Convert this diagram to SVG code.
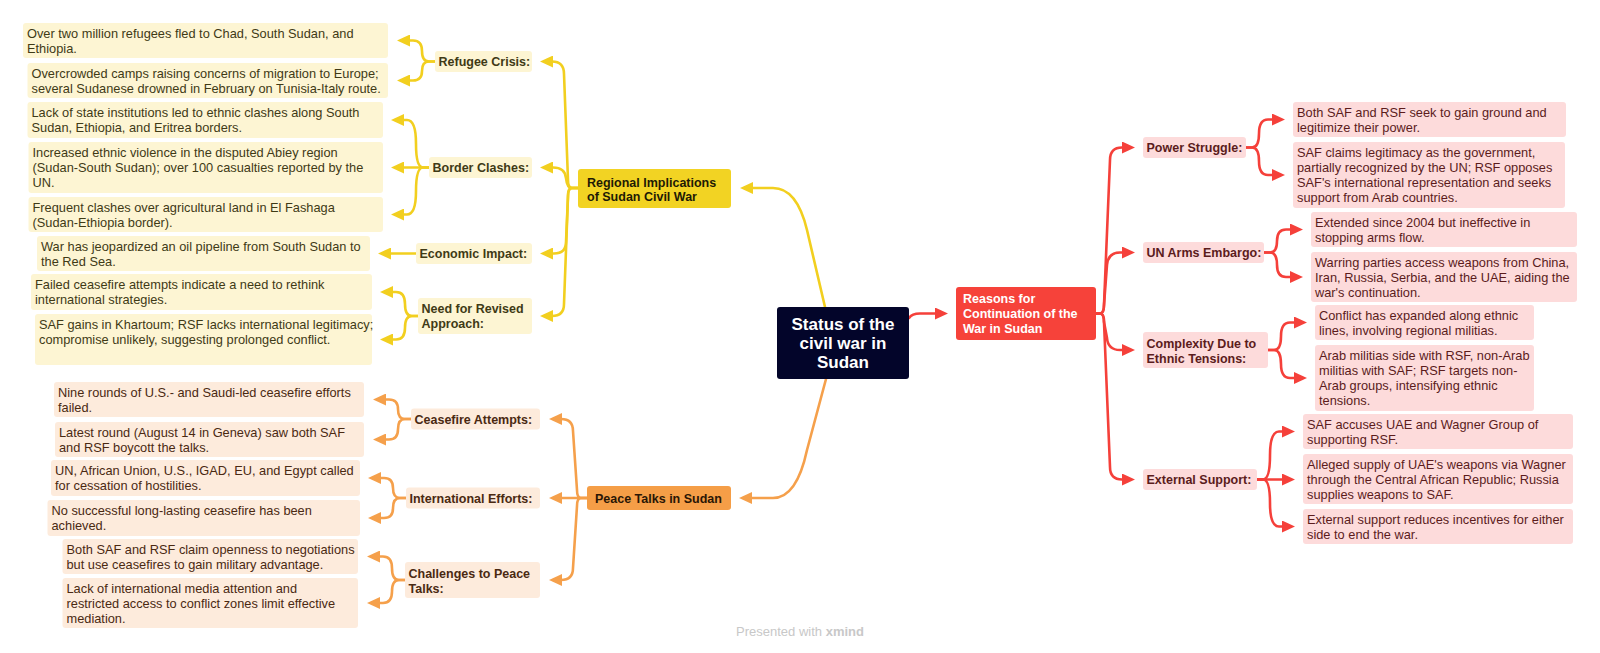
<svg xmlns="http://www.w3.org/2000/svg" width="1600" height="653" viewBox="0 0 1600 653">
<defs>
<marker id="ay" viewBox="0 0 13 12" markerWidth="13" markerHeight="12" refX="7" refY="6" orient="auto" markerUnits="userSpaceOnUse"><path d="M0,0 L13,6 L0,12 Z" fill="#F2CF1F"/></marker>
<marker id="ao" viewBox="0 0 13 12" markerWidth="13" markerHeight="12" refX="7" refY="6" orient="auto" markerUnits="userSpaceOnUse"><path d="M0,0 L13,6 L0,12 Z" fill="#F5A04B"/></marker>
<marker id="ar" viewBox="0 0 13 12" markerWidth="13" markerHeight="12" refX="7" refY="6" orient="auto" markerUnits="userSpaceOnUse"><path d="M0,0 L13,6 L0,12 Z" fill="#F5403A"/></marker>
</defs>
<style>
text{font-family:"Liberation Sans",Arial,sans-serif}
.c{fill:none;stroke-width:2.6;stroke-linecap:round;stroke-linejoin:round}
.cy{stroke:#F2CF1F;marker-end:url(#ay)}
.co{stroke:#F5A04B;marker-end:url(#ao)}
.cr{stroke:#F5403A;marker-end:url(#ar)}
.by{fill:#FDF5D3}
.bo{fill:#FDEBDC}
.br{fill:#FDDBDB}
.leaf{font-size:12.8px}
.mid{font-size:12.5px;font-weight:bold}
.main{font-size:12.5px;font-weight:bold}
.ty{fill:#3F3A16}
.to{fill:#4A2912}
.tr{fill:#5B1C1C}
</style>
<rect width="1600" height="653" fill="#FFFFFF"/>

<g id="connectors" class="c">
<!-- central to main topics -->
<path class="cy" d="M825,307 L807,230 C801,205 791,188 773,188 L746,188"/>
<path class="co" d="M826,379 L807,450 C801,478 791,498 773,498 L745,498"/>
<path class="cr" d="M909,318 Q912,313.5 920,313.5 L942,313.5"/>
<!-- yellow level 1 -->
<path class="cy" d="M578,188 L572,188 Q568,188 568,180 L564,74 Q564,61.5 552,61.5 L546,61.5"/>
<path class="cy" d="M578,188 L572,188 Q567,188 566,178 Q565,167.5 553,167.5 L546,167.5"/>
<path class="cy" d="M578,188 L572,188 Q568,188 568,196 L566,242 Q566,253.5 554,253.5 L546,253.5"/>
<path class="cy" d="M578,188 L572,188 Q568,188 568,196 L564,304 Q564,316 552,316 L546,316"/>
<!-- yellow level 2 -->
<path class="cy" d="M435,61.5 L429,61.5 Q422,61.5 422,51 Q422,40.5 413,40.5 L403,40.5"/>
<path class="cy" d="M435,61.5 L429,61.5 Q422,61.5 422,71 Q422,80.5 413,80.5 L403,80.5"/>
<path class="cy" d="M429,167.5 L423,167.5 Q416,167.5 416,143.75 Q416,120 407,120 L397,120"/>
<path class="cy" d="M429,167.5 L397,167.5"/>
<path class="cy" d="M429,167.5 L423,167.5 Q416,167.5 416,191 Q416,214.5 407,214.5 L397,214.5"/>
<path class="cy" d="M416,253.5 L384,253.5"/>
<path class="cy" d="M418,316 L412,316 Q405,316 405,304 Q405,292 396,292 L386,292"/>
<path class="cy" d="M418,316 L412,316 Q405,316 405,327.75 Q405,339.5 396,339.5 L386,339.5"/>
<!-- orange level 1 -->
<path class="co" d="M587,498 L581,498 Q577,498 577,490 L573,431 Q573,419 561,419 L555,419"/>
<path class="co" d="M587,498 L555,498"/>
<path class="co" d="M587,498 L581,498 Q577,498 577,506 L573,568 Q573,580 561,580 L555,580"/>
<!-- orange level 2 -->
<path class="co" d="M411,419 L405,419 Q398,419 398,409.25 Q398,399.5 389,399.5 L379,399.5"/>
<path class="co" d="M411,419 L405,419 Q398,419 398,429.25 Q398,439.5 389,439.5 L379,439.5"/>
<path class="co" d="M406,498 L400,498 Q393,498 393,488 Q393,478 384,478 L374,478"/>
<path class="co" d="M406,498 L400,498 Q393,498 393,508 Q393,518 384,518 L374,518"/>
<path class="co" d="M405,580 L399,580 Q392,580 392,568.25 Q392,556.5 383,556.5 L373,556.5"/>
<path class="co" d="M405,580 L399,580 Q392,580 392,591.5 Q392,603 383,603 L373,603"/>
<!-- red level 1 -->
<path class="cr" d="M1096,313.5 L1100,313.5 Q1104,313.5 1104,305 L1110,160 Q1110,147.5 1122,147.5 L1129,147.5"/>
<path class="cr" d="M1096,313.5 L1100,313.5 Q1104,313.5 1104,305 L1107,265 Q1108,252.5 1120,252.5 L1129,252.5"/>
<path class="cr" d="M1096,313.5 L1100,313.5 Q1104,313.5 1104,322 L1107,338 Q1108,350 1120,350 L1129,350"/>
<path class="cr" d="M1096,313.5 L1100,313.5 Q1104,313.5 1104,322 L1110,467 Q1110,479.5 1122,479.5 L1129,479.5"/>
<!-- red level 2 -->
<path class="cr" d="M1246,147.5 L1252,147.5 Q1259,147.5 1259,133.5 Q1259,119.5 1268,119.5 L1279,119.5"/>
<path class="cr" d="M1246,147.5 L1252,147.5 Q1259,147.5 1259,161.25 Q1259,175 1268,175 L1279,175"/>
<path class="cr" d="M1264,252.5 L1270,252.5 Q1277,252.5 1277,241 Q1277,229.5 1286,229.5 L1297,229.5"/>
<path class="cr" d="M1264,252.5 L1270,252.5 Q1277,252.5 1277,264.75 Q1277,277 1286,277 L1297,277"/>
<path class="cr" d="M1268,350 L1274,350 Q1281,350 1281,336.25 Q1281,322.5 1290,322.5 L1301,322.5"/>
<path class="cr" d="M1268,350 L1274,350 Q1281,350 1281,364 Q1281,378 1290,378 L1301,378"/>
<path class="cr" d="M1257,479.5 L1263,479.5 Q1270,479.5 1270,455.5 Q1270,431.5 1279,431.5 L1289,431.5"/>
<path class="cr" d="M1257,479.5 L1289,479.5"/>
<path class="cr" d="M1257,479.5 L1263,479.5 Q1270,479.5 1270,503 Q1270,526.5 1279,526.5 L1289,526.5"/>
</g>

<!-- central -->
<g id="n-central">
<rect x="777" y="307" width="132" height="72" rx="3" fill="#03052A"/>
<text x="843" y="330" font-size="17" font-weight="bold" fill="#FFFFFF" text-anchor="middle"><tspan x="843">Status of the</tspan><tspan x="843" dy="19">civil war in</tspan><tspan x="843" dy="19">Sudan</tspan></text>
</g>

<!-- yellow branch -->
<g id="n-regional">
<rect x="578" y="169" width="153" height="39" rx="3" fill="#F2D323"/>
<text class="main" x="587" y="186.5" fill="#1E1A05"><tspan x="587">Regional Implications</tspan><tspan x="587" dy="14">of Sudan Civil War</tspan></text>
</g>
<g id="n-refugee"><rect class="by" x="435" y="51" width="97" height="21" rx="3"/><text class="mid ty" x="438.5" y="66">Refugee Crisis:</text></g>
<g id="n-border"><rect class="by" x="429" y="157" width="103" height="21" rx="3"/><text class="mid ty" x="432.5" y="172">Border Clashes:</text></g>
<g id="n-economic"><rect class="by" x="416" y="243" width="116" height="21" rx="3"/><text class="mid ty" x="419.5" y="258">Economic Impact:</text></g>
<g id="n-revised"><rect class="by" x="418" y="298" width="114" height="36" rx="3"/><text class="mid ty" x="421.5" y="312.5"><tspan x="421.5">Need for Revised</tspan><tspan x="421.5" dy="15">Approach:</tspan></text></g>

<g id="n-y1"><rect class="by" x="23" y="23" width="365" height="35" rx="3"/><text class="leaf ty" x="27" y="37.5"><tspan x="27">Over two million refugees fled to Chad, South Sudan, and</tspan><tspan x="27" dy="15">Ethiopia.</tspan></text></g>
<g id="n-y2"><rect class="by" x="27.5" y="63" width="360.5" height="35" rx="3"/><text class="leaf ty" x="31.5" y="77.5"><tspan x="31.5">Overcrowded camps raising concerns of migration to Europe;</tspan><tspan x="31.5" dy="15">several Sudanese drowned in February on Tunisia-Italy route.</tspan></text></g>
<g id="n-y3"><rect class="by" x="27.5" y="102" width="355.5" height="36" rx="3"/><text class="leaf ty" x="31.5" y="116.5"><tspan x="31.5">Lack of state institutions led to ethnic clashes along South</tspan><tspan x="31.5" dy="15">Sudan, Ethiopia, and Eritrea borders.</tspan></text></g>
<g id="n-y4"><rect class="by" x="28.5" y="142" width="354.5" height="51" rx="3"/><text class="leaf ty" x="32.5" y="156.5"><tspan x="32.5">Increased ethnic violence in the disputed Abiey region</tspan><tspan x="32.5" dy="15">(Sudan-South Sudan); over 100 casualties reported by the</tspan><tspan x="32.5" dy="15">UN.</tspan></text></g>
<g id="n-y5"><rect class="by" x="28.5" y="197" width="354.5" height="35" rx="3"/><text class="leaf ty" x="32.5" y="211.5"><tspan x="32.5">Frequent clashes over agricultural land in El Fashaga</tspan><tspan x="32.5" dy="15">(Sudan-Ethiopia border).</tspan></text></g>
<g id="n-y6"><rect class="by" x="37" y="236" width="333" height="35" rx="3"/><text class="leaf ty" x="41" y="250.5"><tspan x="41">War has jeopardized an oil pipeline from South Sudan to</tspan><tspan x="41" dy="15">the Red Sea.</tspan></text></g>
<g id="n-y7"><rect class="by" x="31" y="274" width="341" height="36" rx="3"/><text class="leaf ty" x="35" y="288.5"><tspan x="35">Failed ceasefire attempts indicate a need to rethink</tspan><tspan x="35" dy="15">international strategies.</tspan></text></g>
<g id="n-y8"><rect class="by" x="35" y="314" width="337" height="51" rx="3"/><text class="leaf ty" x="39" y="328.5"><tspan x="39">SAF gains in Khartoum; RSF lacks international legitimacy;</tspan><tspan x="39" dy="15">compromise unlikely, suggesting prolonged conflict.</tspan></text></g>

<!-- orange branch -->
<g id="n-peace">
<rect x="587" y="486" width="144" height="24" rx="3" fill="#F59E47"/>
<text class="main" x="595" y="502.5" fill="#2A1605">Peace Talks in Sudan</text>
</g>
<g id="n-ceasefire"><rect class="bo" x="411" y="408.5" width="129" height="21" rx="3"/><text class="mid to" x="414.5" y="423.5">Ceasefire Attempts:</text></g>
<g id="n-intl"><rect class="bo" x="406" y="487.5" width="134" height="21" rx="3"/><text class="mid to" x="409.5" y="502.5">International Efforts:</text></g>
<g id="n-challenges"><rect class="bo" x="405" y="562" width="135" height="36" rx="3"/><text class="mid to" x="408.5" y="577.5"><tspan x="408.5">Challenges to Peace</tspan><tspan x="408.5" dy="15">Talks:</tspan></text></g>

<g id="n-o1"><rect class="bo" x="54" y="382" width="310" height="35" rx="3"/><text class="leaf to" x="58" y="396.5"><tspan x="58">Nine rounds of U.S.- and Saudi-led ceasefire efforts</tspan><tspan x="58" dy="15">failed.</tspan></text></g>
<g id="n-o2"><rect class="bo" x="55" y="422" width="309" height="35" rx="3"/><text class="leaf to" x="59" y="436.5"><tspan x="59">Latest round (August 14 in Geneva) saw both SAF</tspan><tspan x="59" dy="15">and RSF boycott the talks.</tspan></text></g>
<g id="n-o3"><rect class="bo" x="51" y="460" width="309" height="36" rx="3"/><text class="leaf to" x="55" y="474.5"><tspan x="55">UN, African Union, U.S., IGAD, EU, and Egypt called</tspan><tspan x="55" dy="15">for cessation of hostilities.</tspan></text></g>
<g id="n-o4"><rect class="bo" x="47.5" y="500" width="312.5" height="36" rx="3"/><text class="leaf to" x="51.5" y="514.5"><tspan x="51.5">No successful long-lasting ceasefire has been</tspan><tspan x="51.5" dy="15">achieved.</tspan></text></g>
<g id="n-o5"><rect class="bo" x="62.5" y="539" width="295.5" height="35" rx="3"/><text class="leaf to" x="66.5" y="553.5"><tspan x="66.5">Both SAF and RSF claim openness to negotiations</tspan><tspan x="66.5" dy="15">but use ceasefires to gain military advantage.</tspan></text></g>
<g id="n-o6"><rect class="bo" x="62.5" y="578" width="295.5" height="50" rx="3"/><text class="leaf to" x="66.5" y="592.5"><tspan x="66.5">Lack of international media attention and</tspan><tspan x="66.5" dy="15">restricted access to conflict zones limit effective</tspan><tspan x="66.5" dy="15">mediation.</tspan></text></g>

<!-- red branch -->
<g id="n-reasons">
<rect x="956" y="287" width="140" height="53" rx="3" fill="#F6423A"/>
<text class="main" x="963" y="302.5" fill="#FFFFFF"><tspan x="963">Reasons for</tspan><tspan x="963" dy="15">Continuation of the</tspan><tspan x="963" dy="15">War in Sudan</tspan></text>
</g>
<g id="n-power"><rect class="br" x="1143" y="137" width="103" height="21" rx="3"/><text class="mid tr" x="1146.5" y="152">Power Struggle:</text></g>
<g id="n-embargo"><rect class="br" x="1143" y="242" width="121" height="21" rx="3"/><text class="mid tr" x="1146.5" y="257">UN Arms Embargo:</text></g>
<g id="n-complexity"><rect class="br" x="1143" y="332" width="125" height="36" rx="3"/><text class="mid tr" x="1146.5" y="347.5"><tspan x="1146.5">Complexity Due to</tspan><tspan x="1146.5" dy="15">Ethnic Tensions:</tspan></text></g>
<g id="n-external"><rect class="br" x="1143" y="469" width="114" height="21" rx="3"/><text class="mid tr" x="1146.5" y="484">External Support:</text></g>

<g id="n-r1"><rect class="br" x="1293" y="102" width="273" height="35" rx="3"/><text class="leaf tr" x="1297" y="117"><tspan x="1297">Both SAF and RSF seek to gain ground and</tspan><tspan x="1297" dy="15">legitimize their power.</tspan></text></g>
<g id="n-r2"><rect class="br" x="1293" y="142" width="272" height="66" rx="3"/><text class="leaf tr" x="1297" y="157"><tspan x="1297">SAF claims legitimacy as the government,</tspan><tspan x="1297" dy="15">partially recognized by the UN; RSF opposes</tspan><tspan x="1297" dy="15">SAF's international representation and seeks</tspan><tspan x="1297" dy="15">support from Arab countries.</tspan></text></g>
<g id="n-r3"><rect class="br" x="1311" y="212" width="266" height="35" rx="3"/><text class="leaf tr" x="1315" y="227"><tspan x="1315">Extended since 2004 but ineffective in</tspan><tspan x="1315" dy="15">stopping arms flow.</tspan></text></g>
<g id="n-r4"><rect class="br" x="1311" y="252" width="266" height="50" rx="3"/><text class="leaf tr" x="1315" y="267"><tspan x="1315">Warring parties access weapons from China,</tspan><tspan x="1315" dy="15">Iran, Russia, Serbia, and the UAE, aiding the</tspan><tspan x="1315" dy="15">war's continuation.</tspan></text></g>
<g id="n-r5"><rect class="br" x="1315" y="305" width="219" height="35" rx="3"/><text class="leaf tr" x="1319" y="320"><tspan x="1319">Conflict has expanded along ethnic</tspan><tspan x="1319" dy="15">lines, involving regional militias.</tspan></text></g>
<g id="n-r6"><rect class="br" x="1315" y="345" width="219" height="66" rx="3"/><text class="leaf tr" x="1319" y="360"><tspan x="1319">Arab militias side with RSF, non-Arab</tspan><tspan x="1319" dy="15">militias with SAF; RSF targets non-</tspan><tspan x="1319" dy="15">Arab groups, intensifying ethnic</tspan><tspan x="1319" dy="15">tensions.</tspan></text></g>
<g id="n-r7"><rect class="br" x="1303" y="414" width="270" height="35" rx="3"/><text class="leaf tr" x="1307" y="429"><tspan x="1307">SAF accuses UAE and Wagner Group of</tspan><tspan x="1307" dy="15">supporting RSF.</tspan></text></g>
<g id="n-r8"><rect class="br" x="1303" y="454" width="270" height="50" rx="3"/><text class="leaf tr" x="1307" y="469"><tspan x="1307">Alleged supply of UAE's weapons via Wagner</tspan><tspan x="1307" dy="15">through the Central African Republic; Russia</tspan><tspan x="1307" dy="15">supplies weapons to SAF.</tspan></text></g>
<g id="n-r9"><rect class="br" x="1303" y="509" width="270" height="35" rx="3"/><text class="leaf tr" x="1307" y="524"><tspan x="1307">External support reduces incentives for either</tspan><tspan x="1307" dy="15">side to end the war.</tspan></text></g>

<text x="800" y="636" font-size="13" fill="#C8C8C8" text-anchor="middle">Presented with <tspan font-weight="bold">xmind</tspan></text>
</svg>
